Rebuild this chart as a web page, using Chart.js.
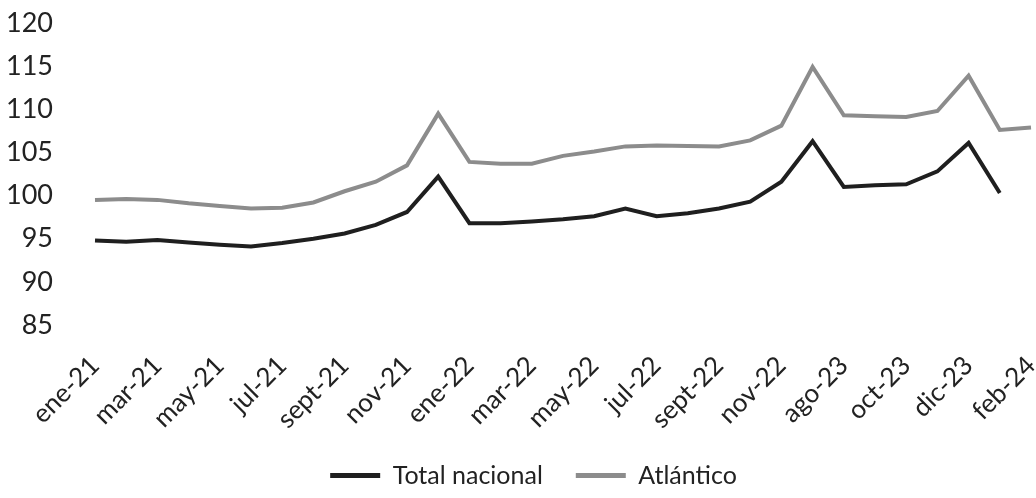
<!DOCTYPE html>
<html>
<head>
<meta charset="utf-8">
<script src="https://cdn.jsdelivr.net/npm/chart.js@4.4.1/dist/chart.umd.min.js"></script>
<style>
  html, body { margin: 0; padding: 0; background: #fff; }
  #wrap { width: 1036px; height: 498px; }
</style>
</head>
<body>
<div id="wrap"><canvas id="c" width="1036" height="498"></canvas></div>
<script>
const categories = ["ene-21","feb-21","mar-21","abr-21","may-21","jun-21","jul-21","ago-21","sept-21","oct-21","nov-21","dic-21",
  "ene-22","feb-22","mar-22","abr-22","may-22","jun-22","jul-22","ago-22","sept-22","oct-22","nov-22","dic-22",
  "ago-23","sept-23","oct-23","nov-23","dic-23","ene-24","feb-24"];
const totalNacional = [94.8,94.65,94.85,94.55,94.3,94.1,94.5,95.0,95.6,96.6,98.1,102.2,
  96.8,96.8,97.0,97.25,97.6,98.5,97.6,97.95,98.5,99.3,101.6,106.3,
  101.0,101.2,101.3,102.8,106.1,100.3,null];
const atlantico = [99.5,99.6,99.5,99.1,98.8,98.5,98.6,99.2,100.5,101.6,103.5,109.5,
  103.9,103.7,103.7,104.6,105.1,105.7,105.8,105.75,105.7,106.4,108.1,114.9,
  109.3,109.2,109.1,109.8,113.9,107.6,107.9];
const yTicks = [85,90,95,100,105,110,115,120];

const FONT = "Lato, 'Open Sans', sans-serif";
const TXT = "#222";

const legendShift = {
  id: 'legendShift',
  afterLayout(chart) {
    const l = chart.legend;
    if (l) { l.left += 18; l.right += 18; }
  }
};

new Chart(document.getElementById('c'), {
  type: 'line',
  data: {
    labels: categories,
    datasets: [
      { label: 'Total nacional', data: totalNacional, borderColor: '#1f1f1f', backgroundColor: '#1f1f1f',
        borderWidth: 4, pointRadius: 0, tension: 0, spanGaps: false, borderJoinStyle: 'miter' },
      { label: 'Atlántico', data: atlantico, borderColor: '#8c8c8c', backgroundColor: '#8c8c8c',
        borderWidth: 4, pointRadius: 0, tension: 0, borderJoinStyle: 'miter' }
    ]
  },
  plugins: [legendShift],
  options: {
    responsive: false,
    animation: false,
    layout: { padding: { left: 0, right: 5, top: 23, bottom: 0 } },
    plugins: {
      tooltip: { enabled: false },
      legend: {
        position: 'bottom',
        labels: {
          color: TXT,
          font: { family: FONT, size: 25 },
          boxWidth: 50,
          boxHeight: 5,
          padding: 33,
          generateLabels: function(chart) {
            const items = Chart.defaults.plugins.legend.labels.generateLabels(chart);
            items.forEach(it => { it.lineWidth = 0; });
            return items;
          }
        }
      }
    },
    scales: {
      x: {
        grid: { display: false, drawTicks: false },
        border: { display: false },
        ticks: {
          autoSkip: false,
          maxRotation: 45,
          minRotation: 45,
          padding: 25,
          color: TXT,
          font: { family: FONT, size: 26 },
          callback: function(v, i) { return i % 2 === 0 ? categories[i] : ''; }
        },
        afterFit: function(s) { s.height = 105; s.paddingRight = 0; s.paddingLeft = 0; }
      },
      y: {
        min: 85, max: 120,
        grid: { display: false, drawTicks: false },
        border: { display: false },
        afterBuildTicks: function(s) { s.ticks = yTicks.map(v => ({ value: v })); },
        ticks: {
          padding: 42,
          color: TXT,
          font: { family: FONT, size: 27 }
        },
        afterFit: function(s) { s.width = 95; s.paddingTop = 0; s.paddingBottom = 0; }
      }
    }
  }
});
</script>
</body>
</html>
